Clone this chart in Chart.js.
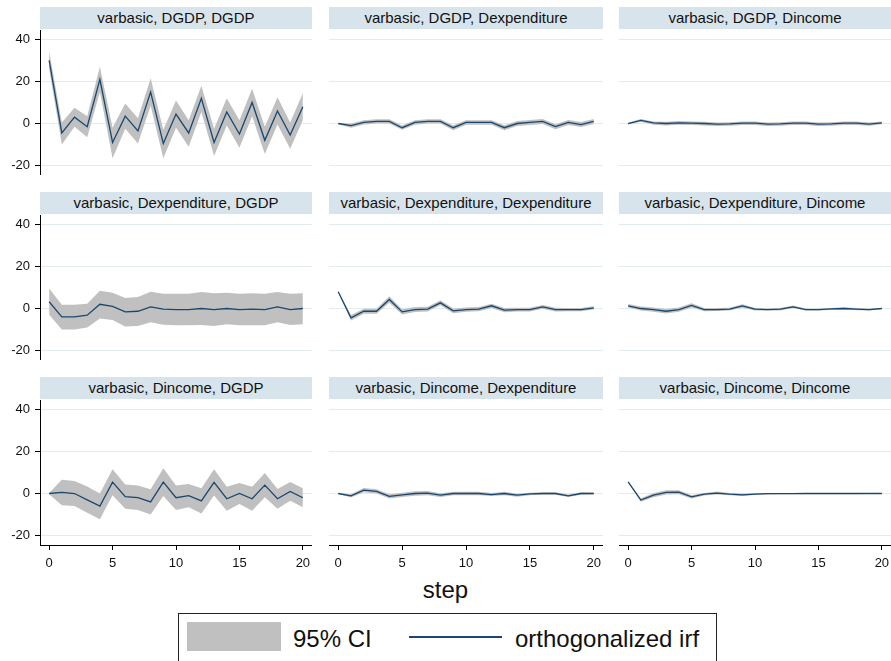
<!DOCTYPE html>
<html>
<head>
<meta charset="utf-8">
<script src="https://cdn.jsdelivr.net/npm/chart.js@4.4.1/dist/chart.umd.min.js"></script>
<style>
  html, body { margin: 0; padding: 0; background: #fff; }
  #wrap { position: relative; width: 891px; height: 661px; overflow: hidden; background: #fff;
          font-family: "Liberation Sans", Arial, sans-serif; color: #111; }
  .strip { position: absolute; height: 22px; line-height: 22px; background: #d8e4eb;
           text-align: center; font-size: 15px; white-space: nowrap; }
  .pan { position: absolute; }
  .txt { position: absolute; font-size: 24px; line-height: 28px; white-space: nowrap; }
</style>
</head>
<body>
<div id="wrap">
  <div class="txt" style="left:0;width:891px;text-align:center;top:576px;">step</div>
  <div style="position:absolute;left:178px;top:613px;width:537px;height:47px;border:1px solid #222;"></div>
  <div style="position:absolute;left:187px;top:622px;width:94px;height:29px;background:#c0c0c0;"></div>
  <div class="txt" style="left:293px;top:625px;">95% CI</div>
  <div style="position:absolute;left:409px;top:636px;width:93px;height:2px;background:#1a476f;"></div>
  <div class="txt" style="left:515px;top:625px;">orthogonalized irf</div>
</div>
<script>
// steps and ticks
var steps = [0, 1, 2, 3, 4, 5, 6, 7, 8, 9, 10, 11, 12, 13, 14, 15, 16, 17, 18, 19, 20];
var xTicks = [0, 5, 10, 15, 20];
var yTicks = [-20, 0, 20, 40];

// impulse DGDP
var irfGdpGdp = [30, -4.5, 3, -1.5, 21, -9, 3.5, -3.5, 15, -9.5, 4.5, -4.5, 12, -9, 5.5, -5, 10, -8, 6, -5.5, 8];
var hiGdpGdp  = [34.5, 0.5, 7.5, 3.5, 27, -2, 9.5, 2.5, 21.5, -3, 11, 1.5, 18, -2.5, 12, 1.5, 16.5, -1.5, 12.5, 0.5, 14.5];
var loGdpGdp  = [26, -10, -1.5, -6.5, 15, -16.5, -2.5, -9.5, 8.5, -16.5, -2, -11, 5.5, -15.5, -1, -11.5, 3.5, -14.5, -0.5, -12, 1.5];

var irfGdpExp = [0, -1, 0.5, 1, 1, -2, 0.5, 1, 1, -2, 0.5, 0.5, 0.5, -2, 0, 0.5, 1, -1.5, 0.5, -0.5, 1];
var hiGdpExp  = [0.3, 0, 1.5, 2, 2, -1, 1.6, 2, 2, -0.8, 1.6, 1.6, 1.6, -0.8, 1.2, 1.7, 2.2, -0.3, 1.7, 0.7, 2.2];
var loGdpExp  = [-0.3, -2, -0.5, 0, 0, -3, -0.6, 0, 0, -3.2, -0.6, -0.6, -0.6, -3.2, -1.2, -0.7, -0.2, -2.7, -0.7, -1.7, -0.2];

var irfGdpInc = [0, 1.5, 0.3, 0, 0.3, 0.2, 0, -0.3, -0.2, 0.2, 0.2, -0.3, -0.2, 0.2, 0.2, -0.3, -0.2, 0.2, 0.2, -0.3, 0.3];
var hiGdpInc  = [0.5, 2.2, 1, 0.8, 1.2, 1, 0.8, 0.5, 0.6, 1, 1, 0.5, 0.6, 1, 1, 0.5, 0.6, 1, 1, 0.5, 1];
var loGdpInc  = [-0.5, 0.8, -0.6, -0.9, -0.6, -0.7, -0.9, -1.2, -1.1, -0.7, -0.7, -1.2, -1.1, -0.7, -0.7, -1.2, -1.1, -0.7, -0.7, -1.1, -0.4];

// impulse Dexpenditure
var irfExpGdp = [3.2, -4, -4, -3.2, 2, 1, -1.6, -1.3, 0.8, -0.3, -0.5, -0.5, 0, -0.5, 0, -0.5, -0.3, -0.5, 0.8, -0.5, 0];
var hiExpGdp  = [9.5, 1.8, 1.8, 2.3, 8.5, 7.5, 5, 5.5, 8, 7, 7, 7, 7.8, 7.3, 7.5, 7, 7.3, 7, 7.8, 7, 7.3];
var loExpGdp  = [-3, -10, -10, -9, -4.8, -5.5, -8.5, -8.3, -6.5, -7.7, -8, -8, -7.8, -8.3, -7.5, -8, -8, -8, -6.5, -7.8, -7.5];

var irfExpExp = [8, -4.4, -1.3, -1.3, 4.3, -1.6, -0.5, -0.3, 2.7, -1.1, -0.5, -0.3, 1.3, -0.8, -0.5, -0.5, 0.8, -0.5, -0.5, -0.5, 0.3];
var hiExpExp  = [8.3, -3.1, -0.1, -0.1, 5.8, -0.3, 0.7, 0.8, 3.9, 0, 0.5, 0.7, 2.3, 0.2, 0.4, 0.4, 1.7, 0.4, 0.3, 0.3, 1.1];
var loExpExp  = [7.7, -5.7, -2.5, -2.5, 2.8, -2.9, -1.7, -1.4, 1.5, -2.2, -1.5, -1.3, 0.3, -1.8, -1.4, -1.4, -0.1, -1.4, -1.3, -1.3, -0.5];

var irfExpInc = [1.3, 0, -0.5, -1.3, -0.5, 1.5, -0.5, -0.5, -0.3, 1.2, -0.3, -0.5, -0.3, 0.8, -0.5, -0.5, -0.2, 0, -0.3, -0.5, 0];
var hiExpInc  = [2.1, 1, 0.5, -0.2, 0.5, 2.5, 0.3, 0.2, 0.4, 2, 0.3, 0, 0.3, 1.4, 0, -0.1, 0.3, 0.6, 0.2, -0.1, 0.3];
var loExpInc  = [0.5, -1, -1.5, -2.4, -1.5, 0.5, -1.3, -1.2, -1, 0.4, -0.9, -1, -0.9, 0.2, -1, -0.9, -0.7, -0.6, -0.8, -0.9, -0.3];

// impulse Dincome
var irfIncGdp = [0, 0.5, 0, -3, -6, 5.4, -1.5, -2, -4, 5.4, -2, -1, -3.5, 5.3, -2.5, 0, -2.5, 4, -2.5, 1, -2];
var hiIncGdp  = [0.3, 6.6, 6, 3.3, 0, 11.5, 4.3, 3.8, 2, 12, 3.8, 4.5, 2.5, 11.5, 3.2, 5, 3.2, 9.8, 2.2, 5.5, 2.5];
var loIncGdp  = [-0.3, -5.6, -6, -9.2, -12.3, -0.8, -7.3, -7.8, -10, -1.2, -7.8, -6.5, -9.5, -0.9, -8.2, -5, -8.2, -1.8, -7.2, -3.5, -6.5];

var irfIncExp = [0, -1.1, 1.6, 1, -1.4, -0.6, 0, 0.2, -0.8, 0, 0, 0, -0.5, 0, -0.8, -0.2, 0, 0, -1.1, 0, 0];
var hiIncExp  = [0.2, -0.3, 2.6, 2, -0.4, 0.4, 1.1, 1.2, 0.1, 0.8, 0.8, 0.8, 0.2, 0.8, -0.1, 0.4, 0.6, 0.6, -0.5, 0.6, 0.5];
var loIncExp  = [-0.2, -1.9, 0.6, 0, -2.4, -1.6, -1.1, -0.8, -1.7, -0.8, -0.8, -0.8, -1.2, -0.8, -1.5, -0.8, -0.6, -0.6, -1.7, -0.6, -0.5];

var irfIncInc = [5.5, -3.1, -0.8, 0.5, 0.6, -1.6, -0.3, 0.2, -0.3, -0.6, -0.3, -0.1, -0.1, -0.1, 0, 0, 0, 0, 0, 0, 0];
var hiIncInc  = [5.7, -2.3, 0.2, 1.5, 1.6, -0.8, 0.3, 0.9, 0.2, 0, 0.1, 0.3, 0.2, 0.2, 0.3, 0.3, 0.3, 0.3, 0.3, 0.2, 0.2];
var loIncInc  = [5.3, -3.9, -1.8, -0.5, -0.4, -2.4, -0.9, -0.5, -0.8, -1.2, -0.7, -0.5, -0.4, -0.4, -0.3, -0.3, -0.3, -0.3, -0.3, -0.2, -0.2];

var panels = [
  { title: 'varbasic, DGDP, DGDP', irf: irfGdpGdp, lo: loGdpGdp, hi: hiGdpGdp },
  { title: 'varbasic, DGDP, Dexpenditure', irf: irfGdpExp, lo: loGdpExp, hi: hiGdpExp },
  { title: 'varbasic, DGDP, Dincome', irf: irfGdpInc, lo: loGdpInc, hi: hiGdpInc },
  { title: 'varbasic, Dexpenditure, DGDP', irf: irfExpGdp, lo: loExpGdp, hi: hiExpGdp },
  { title: 'varbasic, Dexpenditure, Dexpenditure', irf: irfExpExp, lo: loExpExp, hi: hiExpExp },
  { title: 'varbasic, Dexpenditure, Dincome', irf: irfExpInc, lo: loExpInc, hi: hiExpInc },
  { title: 'varbasic, Dincome, DGDP', irf: irfIncGdp, lo: loIncGdp, hi: hiIncGdp },
  { title: 'varbasic, Dincome, Dexpenditure', irf: irfIncExp, lo: loIncExp, hi: hiIncExp },
  { title: 'varbasic, Dincome, Dincome', irf: irfIncInc, lo: loIncInc, hi: hiIncInc }
];

// layout of the 3x3 grid
var colLeft = [40, 329, 619];
var colRight = [312, 603, 891];
var rowTop = [7, 192, 377];
var plotH = 145;
var axisH = 32;
var font = { family: '"Liberation Sans", Arial, sans-serif', size: 13 };

function pts(arr) {
  return steps.map(function (s, i) { return { x: s, y: arr[i] }; });
}

var wrap = document.getElementById('wrap');

panels.forEach(function (p, k) {
  var r = Math.floor(k / 3), c = k % 3;
  var bottomRow = r === 2;

  var strip = document.createElement('div');
  strip.className = 'strip';
  strip.style.left = colLeft[c] + 'px';
  strip.style.top = rowTop[r] + 'px';
  strip.style.width = (colRight[c] - colLeft[c]) + 'px';
  strip.textContent = p.title;
  wrap.appendChild(strip);

  var left = c === 0 ? 0 : colLeft[c];
  var w = colRight[c] - left;
  var h = plotH + (bottomRow ? axisH : 0);
  var box = document.createElement('div');
  box.className = 'pan';
  box.style.left = left + 'px';
  box.style.top = (rowTop[r] + 23) + 'px';
  var cv = document.createElement('canvas');
  cv.width = w; cv.height = h;
  cv.style.width = w + 'px'; cv.style.height = h + 'px';
  box.appendChild(cv);
  wrap.appendChild(box);

  new Chart(cv.getContext('2d'), {
    type: 'line',
    data: {
      datasets: [
        // irf first so it is drawn on top of the band
        { data: pts(p.irf), borderColor: '#1a476f', borderWidth: 1.3, pointRadius: 0, fill: false },
        { data: pts(p.lo), borderWidth: 0, pointRadius: 0, fill: false },
        { data: pts(p.hi), borderWidth: 0, pointRadius: 0, fill: '-1', backgroundColor: '#c0c0c0' }
      ]
    },
    options: {
      responsive: false,
      maintainAspectRatio: false,
      animation: false,
      layout: { padding: 0 },
      plugins: { legend: { display: false }, tooltip: { enabled: false } },
      scales: {
        x: {
          type: 'linear',
          min: -0.72, max: 20.72,
          display: bottomRow,
          grid: { drawOnChartArea: false, drawTicks: true, tickLength: 5, tickColor: '#000' },
          border: { display: true, color: '#000', width: 1 },
          ticks: { color: '#111', font: font, padding: 6, maxRotation: 0 },
          afterBuildTicks: function (s) { s.ticks = xTicks.map(function (v) { return { value: v }; }); },
          afterFit: function (s) {
            s.height = bottomRow ? axisH : 0;
            s.paddingLeft = 0; s.paddingRight = 0;
          }
        },
        y: {
          min: -24.5, max: 44.5,
          grid: { color: '#e1ecef', lineWidth: 1, drawTicks: c === 0, tickLength: 5, tickColor: '#000' },
          border: { display: c === 0, color: '#000', width: 1 },
          ticks: { display: c === 0, color: '#111', font: font, padding: 5 },
          afterBuildTicks: function (s) { s.ticks = yTicks.map(function (v) { return { value: v }; }); },
          afterFit: function (s) { s.width = c === 0 ? 40 : 0; s.paddingTop = 0; s.paddingBottom = 0; }
        }
      }
    }
  });
});
</script>
</body>
</html>
